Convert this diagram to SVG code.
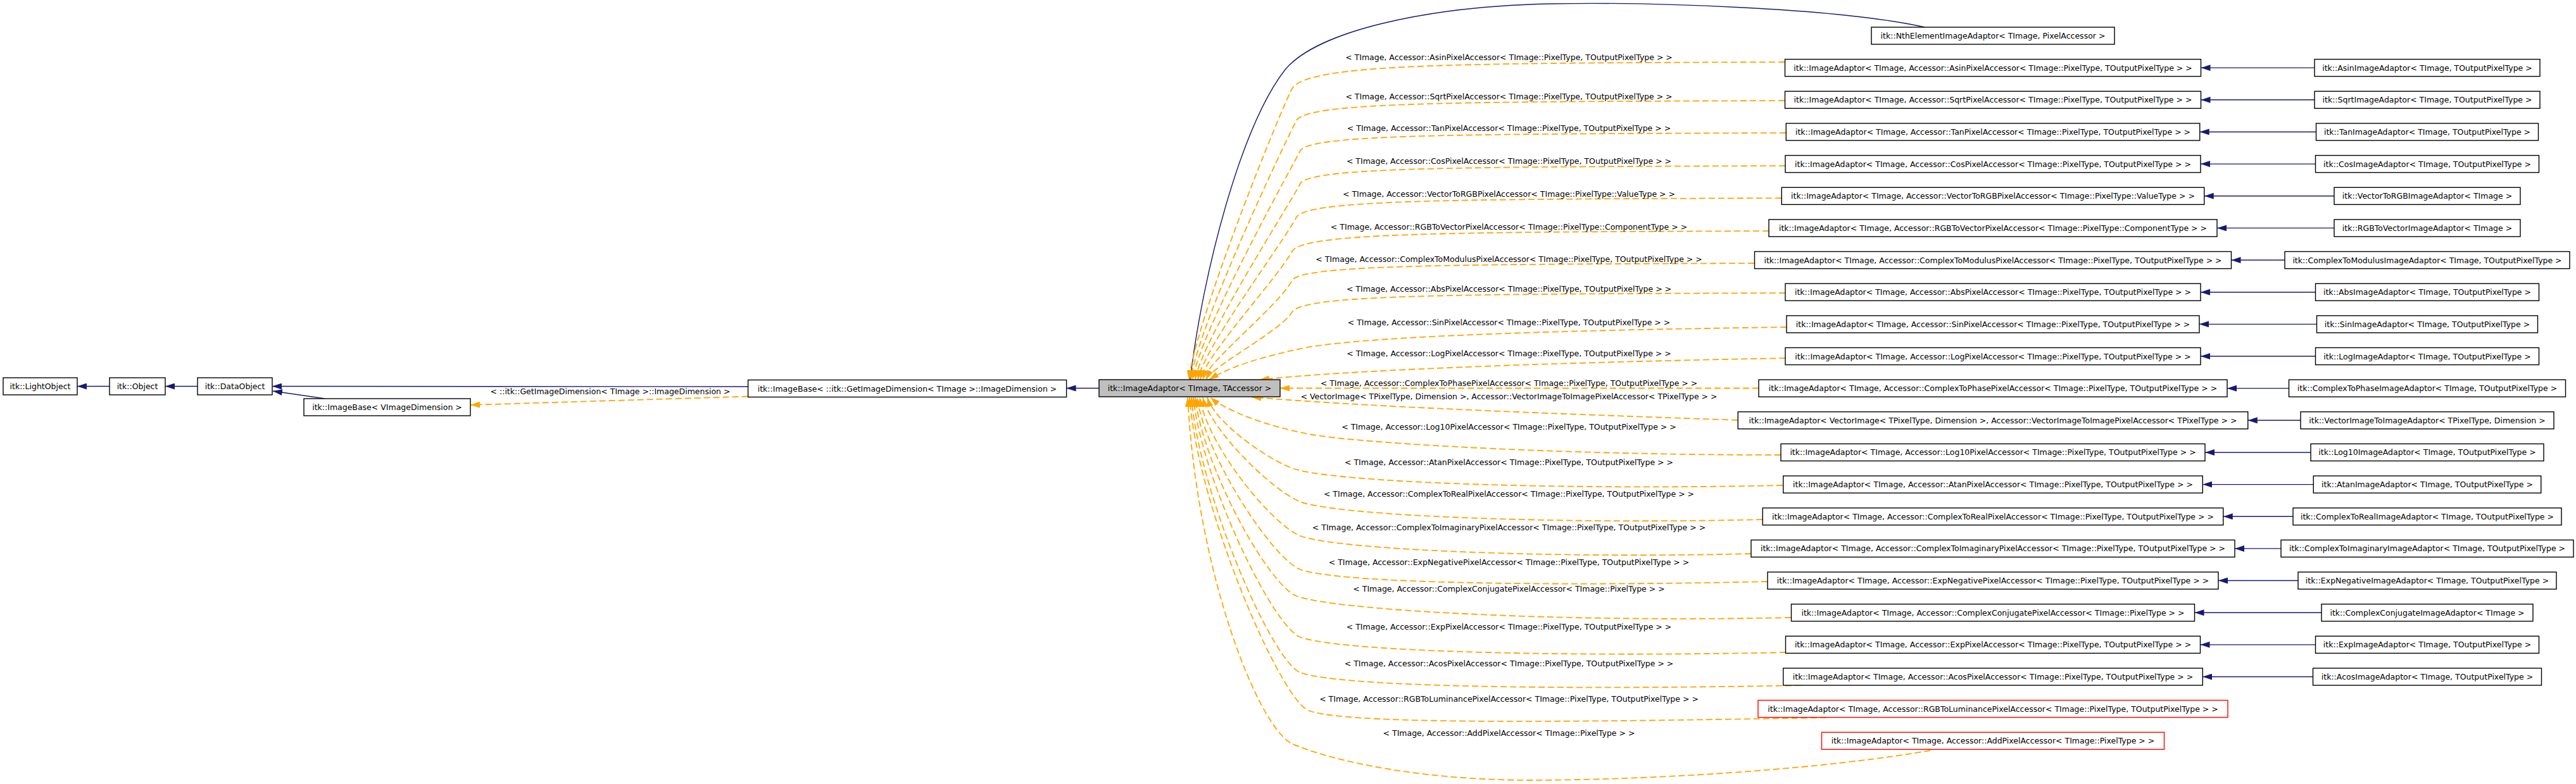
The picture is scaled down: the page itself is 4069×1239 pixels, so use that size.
<svg xmlns="http://www.w3.org/2000/svg" width="4069" height="1239" viewBox="0 0 4069 1239">
<style>
text{font-family:"DejaVu Sans","Liberation Sans",sans-serif;font-size:12.5px;fill:#000}
.n rect{fill:#fff;stroke:#000;stroke-width:1.4}
.n text{text-anchor:middle}
.r rect{stroke:#ff0000}
.g rect{fill:#bfbfbf}
.e{fill:none;stroke:#191970;stroke-width:1.4;marker-end:url(#an)}
.t{fill:none;stroke:#ffa500;stroke-width:1.8;stroke-dasharray:10 5;marker-end:url(#ao)}
.l{text-anchor:middle}
</style>
<defs>
<marker id="an" markerUnits="userSpaceOnUse" viewBox="0 0 15 10" markerWidth="15" markerHeight="10" refX="15" refY="5" orient="auto"><path d="M0,0 L15,5 L0,10 z" fill="#191970"/></marker>
<marker id="ao" markerUnits="userSpaceOnUse" viewBox="0 0 15 10" markerWidth="15" markerHeight="10" refX="15" refY="5" orient="auto"><path d="M0,0 L15,5 L0,10 z" fill="#ffa500"/></marker>
</defs>
<rect width="4069" height="1239" fill="#fff"/>
<g id="edges">
<path class="e" d="M173,610.5 L122,610.5"/>
<path class="e" d="M312,610.5 L261,610.5"/>
<path class="e" d="M1181.6,611 L430,610.5"/>
<path class="e" d="M513,630 L431,618"/>
<path class="e" d="M1736,613.5 L1684.6,613.5"/>
<path class="t" d="M1181.6,626.5 L743,640"/>
<text class="l" x="964" y="622.5">&lt; ::itk::GetImageDimension&lt; TImage &gt;::ImageDimension &gt;</text>
<path class="e" d="M3040,43 C2900,12 2600,3 2450,6 C2250,10 2080,50 2030,110 C1960,200 1900,430 1880,600"/>
<path class="t" d="M2819,98 C2300,100 2066,100 2041,140 C2020,180 1888,508 1878,600"/>
<path class="t" d="M2819,159 C2300,161 2067,161 2048,190 C2027,230 1891,518 1881,600"/>
<path class="t" d="M2821,210 C2300,212 2071,212 2054,238 C2033,278 1894,528 1884,600"/>
<path class="t" d="M2820,262 C2300,264 2071,264 2054,290 C2033,330 1898,538 1888,600"/>
<path class="t" d="M2814,313 C2300,315 2066,315 2048,343 C2027,383 1902,549 1892,600"/>
<path class="t" d="M2794,365 C2300,367 2060,367 2041,397 C2020,437 1906,559 1896,600"/>
<path class="t" d="M2771,416 C2300,418 2057,418 2041,443 C2020,483 1910,569 1900,600"/>
<path class="t" d="M2820,463 C2300,465 2059,465 2041,493 C2025,522 1915,578 1905,600"/>
<path class="t" d="M2822,517 C2450,522 2150,532 2060,550 C2000,562 1945,578 1910,600"/>
<path class="t" d="M2820,566 C2500,572 2150,583 1990,600"/>
<path class="t" d="M2778,613.5 L2022,613.5"/>
<path class="t" d="M2745,664 C2400,652 2150,642 1977,627.5"/>
<path class="t" d="M2813,719 C2450,719 2150,700 2073,687 C2000,674 1935,648 1912,628"/>
<path class="t" d="M2816,767 C2450,775 2101,762 2041,740 C1996,722 1919,667 1907,628"/>
<path class="t" d="M2784,821 C2450,829 2114,815 2054,793 C2009,775 1912,679 1900,628"/>
<path class="t" d="M2766,875 C2450,883 2114,869 2054,847 C2009,829 1907,704 1895,628"/>
<path class="t" d="M2792,919 C2450,927 2114,922 2054,900 C2009,882 1903,719 1891,628"/>
<path class="t" d="M2829,976 C2450,984 2108,964 2048,942 C2003,924 1900,737 1888,628"/>
<path class="t" d="M2821,1031 C2450,1039 2114,1029 2054,1007 C2009,989 1897,754 1885,628"/>
<path class="t" d="M2845,1083 C2450,1091 2114,1085 2054,1063 C2009,1045 1894,780 1882,628"/>
<path class="t" d="M2885,1134 C2450,1142 2127,1145 2067,1123 C2022,1105 1891,800 1879,628"/>
<path class="t" d="M3049,1186 C2900,1212 2650,1232 2420,1233 C2250,1233 2110,1205 2040,1175 C1985,1145 1890,900 1876,628"/>
<text class="l" x="2383.5" y="94.5">&lt; TImage, Accessor::AsinPixelAccessor&lt; TImage::PixelType, TOutputPixelType &gt; &gt;</text>
<text class="l" x="2383.5" y="157.2">&lt; TImage, Accessor::SqrtPixelAccessor&lt; TImage::PixelType, TOutputPixelType &gt; &gt;</text>
<text class="l" x="2383.5" y="206.8">&lt; TImage, Accessor::TanPixelAccessor&lt; TImage::PixelType, TOutputPixelType &gt; &gt;</text>
<text class="l" x="2383.5" y="258.8">&lt; TImage, Accessor::CosPixelAccessor&lt; TImage::PixelType, TOutputPixelType &gt; &gt;</text>
<text class="l" x="2383.5" y="310.5">&lt; TImage, Accessor::VectorToRGBPixelAccessor&lt; TImage::PixelType::ValueType &gt; &gt;</text>
<text class="l" x="2383.5" y="363.2">&lt; TImage, Accessor::RGBToVectorPixelAccessor&lt; TImage::PixelType::ComponentType &gt; &gt;</text>
<text class="l" x="2383.5" y="413.8">&lt; TImage, Accessor::ComplexToModulusPixelAccessor&lt; TImage::PixelType, TOutputPixelType &gt; &gt;</text>
<text class="l" x="2383.5" y="461.2">&lt; TImage, Accessor::AbsPixelAccessor&lt; TImage::PixelType, TOutputPixelType &gt; &gt;</text>
<text class="l" x="2383.5" y="513.8">&lt; TImage, Accessor::SinPixelAccessor&lt; TImage::PixelType, TOutputPixelType &gt; &gt;</text>
<text class="l" x="2383.5" y="563.2">&lt; TImage, Accessor::LogPixelAccessor&lt; TImage::PixelType, TOutputPixelType &gt; &gt;</text>
<text class="l" x="2383.5" y="609.8">&lt; TImage, Accessor::ComplexToPhasePixelAccessor&lt; TImage::PixelType, TOutputPixelType &gt; &gt;</text>
<text class="l" x="2383.5" y="630.8">&lt; VectorImage&lt; TPixelType, Dimension &gt;, Accessor::VectorImageToImagePixelAccessor&lt; TPixelType &gt; &gt;</text>
<text class="l" x="2383.5" y="678.8">&lt; TImage, Accessor::Log10PixelAccessor&lt; TImage::PixelType, TOutputPixelType &gt; &gt;</text>
<text class="l" x="2383.5" y="734.8">&lt; TImage, Accessor::AtanPixelAccessor&lt; TImage::PixelType, TOutputPixelType &gt; &gt;</text>
<text class="l" x="2383.5" y="784.8">&lt; TImage, Accessor::ComplexToRealPixelAccessor&lt; TImage::PixelType, TOutputPixelType &gt; &gt;</text>
<text class="l" x="2383.5" y="837.8">&lt; TImage, Accessor::ComplexToImaginaryPixelAccessor&lt; TImage::PixelType, TOutputPixelType &gt; &gt;</text>
<text class="l" x="2383.5" y="892.8">&lt; TImage, Accessor::ExpNegativePixelAccessor&lt; TImage::PixelType, TOutputPixelType &gt; &gt;</text>
<text class="l" x="2383.5" y="934.8">&lt; TImage, Accessor::ComplexConjugatePixelAccessor&lt; TImage::PixelType &gt; &gt;</text>
<text class="l" x="2383.5" y="995.2">&lt; TImage, Accessor::ExpPixelAccessor&lt; TImage::PixelType, TOutputPixelType &gt; &gt;</text>
<text class="l" x="2383.5" y="1052.8">&lt; TImage, Accessor::AcosPixelAccessor&lt; TImage::PixelType, TOutputPixelType &gt; &gt;</text>
<text class="l" x="2383.5" y="1108.8">&lt; TImage, Accessor::RGBToLuminancePixelAccessor&lt; TImage::PixelType, TOutputPixelType &gt; &gt;</text>
<text class="l" x="2383.5" y="1162.8">&lt; TImage, Accessor::AddPixelAccessor&lt; TImage::PixelType &gt; &gt;</text>
<path class="e" d="M3656,107.15 L3476.5,107.15"/>
<path class="e" d="M3656,157.8 L3476.5,157.8"/>
<path class="e" d="M3658.5,208.45 L3474.75,208.45"/>
<path class="e" d="M3657.5,259.1 L3476,259.1"/>
<path class="e" d="M3687,309.75 L3481.75,309.75"/>
<path class="e" d="M3687,360.4 L3502,360.4"/>
<path class="e" d="M3609,411.05 L3524.5,411.05"/>
<path class="e" d="M3657.5,461.7 L3476,461.7"/>
<path class="e" d="M3659.5,512.35 L3474,512.35"/>
<path class="e" d="M3657.5,563 L3476,563"/>
<path class="e" d="M3615.5,613.65 L3518,613.65"/>
<path class="e" d="M3634,664.3 L3550.75,664.3"/>
<path class="e" d="M3650,714.95 L3483,714.95"/>
<path class="e" d="M3654.25,765.6 L3479.25,765.6"/>
<path class="e" d="M3622,816.25 L3511.75,816.25"/>
<path class="e" d="M3603,866.9 L3530,866.9"/>
<path class="e" d="M3630,917.55 L3504,917.55"/>
<path class="e" d="M3667,968.2 L3466.5,968.2"/>
<path class="e" d="M3657.5,1018.85 L3475.5,1018.85"/>
<path class="e" d="M3653.5,1069.5 L3479.25,1069.5"/>
</g>
<g id="n_lightobject" class="n"><rect x="5" y="597" width="117" height="27"/><text x="63.5" y="615">itk::LightObject</text></g>
<g id="n_object" class="n"><rect x="173" y="597" width="88" height="27"/><text x="217" y="615">itk::Object</text></g>
<g id="n_dataobject" class="n"><rect x="312" y="597" width="118" height="27"/><text x="371" y="615">itk::DataObject</text></g>
<g id="n_imagebase_v" class="n"><rect x="480" y="630" width="263" height="27"/><text x="611.5" y="648">itk::ImageBase&lt; VImageDimension &gt;</text></g>
<g id="n_imagebase_get" class="n"><rect x="1181.6" y="600.5" width="503" height="27"/><text x="1433" y="618.5">itk::ImageBase&lt; ::itk::GetImageDimension&lt; TImage &gt;::ImageDimension &gt;</text></g>
<g id="n_imageadaptor" class="n g"><rect x="1736" y="600" width="286" height="27"/><text x="1879" y="618">itk::ImageAdaptor&lt; TImage, TAccessor &gt;</text></g>
<g id="n_nth" class="n"><rect x="2956" y="43" width="384" height="27"/><text x="3148" y="61">itk::NthElementImageAdaptor&lt; TImage, PixelAccessor &gt;</text></g>
<g id="n_ia_asin" class="n"><rect x="2819.5" y="93.65" width="657" height="27"/><text x="3148" y="111.65">itk::ImageAdaptor&lt; TImage, Accessor::AsinPixelAccessor&lt; TImage::PixelType, TOutputPixelType &gt; &gt;</text></g>
<g id="n_asin" class="n"><rect x="3656" y="93.65" width="356" height="27"/><text x="3834" y="111.65">itk::AsinImageAdaptor&lt; TImage, TOutputPixelType &gt;</text></g>
<g id="n_ia_sqrt" class="n"><rect x="2819.5" y="144.3" width="657" height="27"/><text x="3148" y="162.3">itk::ImageAdaptor&lt; TImage, Accessor::SqrtPixelAccessor&lt; TImage::PixelType, TOutputPixelType &gt; &gt;</text></g>
<g id="n_sqrt" class="n"><rect x="3656" y="144.3" width="356" height="27"/><text x="3834" y="162.3">itk::SqrtImageAdaptor&lt; TImage, TOutputPixelType &gt;</text></g>
<g id="n_ia_tan" class="n"><rect x="2821.25" y="194.95" width="653.5" height="27"/><text x="3148" y="212.95">itk::ImageAdaptor&lt; TImage, Accessor::TanPixelAccessor&lt; TImage::PixelType, TOutputPixelType &gt; &gt;</text></g>
<g id="n_tan" class="n"><rect x="3658.5" y="194.95" width="351" height="27"/><text x="3834" y="212.95">itk::TanImageAdaptor&lt; TImage, TOutputPixelType &gt;</text></g>
<g id="n_ia_cos" class="n"><rect x="2820" y="245.6" width="656" height="27"/><text x="3148" y="263.6">itk::ImageAdaptor&lt; TImage, Accessor::CosPixelAccessor&lt; TImage::PixelType, TOutputPixelType &gt; &gt;</text></g>
<g id="n_cos" class="n"><rect x="3657.5" y="245.6" width="353" height="27"/><text x="3834" y="263.6">itk::CosImageAdaptor&lt; TImage, TOutputPixelType &gt;</text></g>
<g id="n_ia_vectorgb" class="n"><rect x="2814.25" y="296.25" width="667.5" height="27"/><text x="3148" y="314.25">itk::ImageAdaptor&lt; TImage, Accessor::VectorToRGBPixelAccessor&lt; TImage::PixelType::ValueType &gt; &gt;</text></g>
<g id="n_vectorgb" class="n"><rect x="3687" y="296.25" width="294" height="27"/><text x="3834" y="314.25">itk::VectorToRGBImageAdaptor&lt; TImage &gt;</text></g>
<g id="n_ia_rgbtovec" class="n"><rect x="2794" y="346.9" width="708" height="27"/><text x="3148" y="364.9">itk::ImageAdaptor&lt; TImage, Accessor::RGBToVectorPixelAccessor&lt; TImage::PixelType::ComponentType &gt; &gt;</text></g>
<g id="n_rgbtovec" class="n"><rect x="3687" y="346.9" width="294" height="27"/><text x="3834" y="364.9">itk::RGBToVectorImageAdaptor&lt; TImage &gt;</text></g>
<g id="n_ia_ctomod" class="n"><rect x="2771.5" y="397.55" width="753" height="27"/><text x="3148" y="415.55">itk::ImageAdaptor&lt; TImage, Accessor::ComplexToModulusPixelAccessor&lt; TImage::PixelType, TOutputPixelType &gt; &gt;</text></g>
<g id="n_ctomod" class="n"><rect x="3609" y="397.55" width="450" height="27"/><text x="3834" y="415.55">itk::ComplexToModulusImageAdaptor&lt; TImage, TOutputPixelType &gt;</text></g>
<g id="n_ia_abs" class="n"><rect x="2820" y="448.2" width="656" height="27"/><text x="3148" y="466.2">itk::ImageAdaptor&lt; TImage, Accessor::AbsPixelAccessor&lt; TImage::PixelType, TOutputPixelType &gt; &gt;</text></g>
<g id="n_abs" class="n"><rect x="3657.5" y="448.2" width="353" height="27"/><text x="3834" y="466.2">itk::AbsImageAdaptor&lt; TImage, TOutputPixelType &gt;</text></g>
<g id="n_ia_sin" class="n"><rect x="2822" y="498.85" width="652" height="27"/><text x="3148" y="516.85">itk::ImageAdaptor&lt; TImage, Accessor::SinPixelAccessor&lt; TImage::PixelType, TOutputPixelType &gt; &gt;</text></g>
<g id="n_sin" class="n"><rect x="3659.5" y="498.85" width="349" height="27"/><text x="3834" y="516.85">itk::SinImageAdaptor&lt; TImage, TOutputPixelType &gt;</text></g>
<g id="n_ia_log" class="n"><rect x="2820" y="549.5" width="656" height="27"/><text x="3148" y="567.5">itk::ImageAdaptor&lt; TImage, Accessor::LogPixelAccessor&lt; TImage::PixelType, TOutputPixelType &gt; &gt;</text></g>
<g id="n_log" class="n"><rect x="3657.5" y="549.5" width="353" height="27"/><text x="3834" y="567.5">itk::LogImageAdaptor&lt; TImage, TOutputPixelType &gt;</text></g>
<g id="n_ia_ctophase" class="n"><rect x="2778" y="600.15" width="740" height="27"/><text x="3148" y="618.15">itk::ImageAdaptor&lt; TImage, Accessor::ComplexToPhasePixelAccessor&lt; TImage::PixelType, TOutputPixelType &gt; &gt;</text></g>
<g id="n_ctophase" class="n"><rect x="3615.5" y="600.15" width="437" height="27"/><text x="3834" y="618.15">itk::ComplexToPhaseImageAdaptor&lt; TImage, TOutputPixelType &gt;</text></g>
<g id="n_ia_vecimg" class="n"><rect x="2745.25" y="650.8" width="805.5" height="27"/><text x="3148" y="668.8">itk::ImageAdaptor&lt; VectorImage&lt; TPixelType, Dimension &gt;, Accessor::VectorImageToImagePixelAccessor&lt; TPixelType &gt; &gt;</text></g>
<g id="n_vecimg" class="n"><rect x="3634" y="650.8" width="400" height="27"/><text x="3834" y="668.8">itk::VectorImageToImageAdaptor&lt; TPixelType, Dimension &gt;</text></g>
<g id="n_ia_log10" class="n"><rect x="2813" y="701.45" width="670" height="27"/><text x="3148" y="719.45">itk::ImageAdaptor&lt; TImage, Accessor::Log10PixelAccessor&lt; TImage::PixelType, TOutputPixelType &gt; &gt;</text></g>
<g id="n_log10" class="n"><rect x="3650" y="701.45" width="368" height="27"/><text x="3834" y="719.45">itk::Log10ImageAdaptor&lt; TImage, TOutputPixelType &gt;</text></g>
<g id="n_ia_atan" class="n"><rect x="2816.75" y="752.1" width="662.5" height="27"/><text x="3148" y="770.1">itk::ImageAdaptor&lt; TImage, Accessor::AtanPixelAccessor&lt; TImage::PixelType, TOutputPixelType &gt; &gt;</text></g>
<g id="n_atan" class="n"><rect x="3654.25" y="752.1" width="359.5" height="27"/><text x="3834" y="770.1">itk::AtanImageAdaptor&lt; TImage, TOutputPixelType &gt;</text></g>
<g id="n_ia_ctoreal" class="n"><rect x="2784.25" y="802.75" width="727.5" height="27"/><text x="3148" y="820.75">itk::ImageAdaptor&lt; TImage, Accessor::ComplexToRealPixelAccessor&lt; TImage::PixelType, TOutputPixelType &gt; &gt;</text></g>
<g id="n_ctoreal" class="n"><rect x="3622" y="802.75" width="424" height="27"/><text x="3834" y="820.75">itk::ComplexToRealImageAdaptor&lt; TImage, TOutputPixelType &gt;</text></g>
<g id="n_ia_ctoimag" class="n"><rect x="2766" y="853.4" width="764" height="27"/><text x="3148" y="871.4">itk::ImageAdaptor&lt; TImage, Accessor::ComplexToImaginaryPixelAccessor&lt; TImage::PixelType, TOutputPixelType &gt; &gt;</text></g>
<g id="n_ctoimag" class="n"><rect x="3603" y="853.4" width="462" height="27"/><text x="3834" y="871.4">itk::ComplexToImaginaryImageAdaptor&lt; TImage, TOutputPixelType &gt;</text></g>
<g id="n_ia_expneg" class="n"><rect x="2792" y="904.05" width="712" height="27"/><text x="3148" y="922.05">itk::ImageAdaptor&lt; TImage, Accessor::ExpNegativePixelAccessor&lt; TImage::PixelType, TOutputPixelType &gt; &gt;</text></g>
<g id="n_expneg" class="n"><rect x="3630" y="904.05" width="408" height="27"/><text x="3834" y="922.05">itk::ExpNegativeImageAdaptor&lt; TImage, TOutputPixelType &gt;</text></g>
<g id="n_ia_cconj" class="n"><rect x="2829.5" y="954.7" width="637" height="27"/><text x="3148" y="972.7">itk::ImageAdaptor&lt; TImage, Accessor::ComplexConjugatePixelAccessor&lt; TImage::PixelType &gt; &gt;</text></g>
<g id="n_cconj" class="n"><rect x="3667" y="954.7" width="334" height="27"/><text x="3834" y="972.7">itk::ComplexConjugateImageAdaptor&lt; TImage &gt;</text></g>
<g id="n_ia_exp" class="n"><rect x="2820.5" y="1005.35" width="655" height="27"/><text x="3148" y="1023.35">itk::ImageAdaptor&lt; TImage, Accessor::ExpPixelAccessor&lt; TImage::PixelType, TOutputPixelType &gt; &gt;</text></g>
<g id="n_exp" class="n"><rect x="3657.5" y="1005.35" width="353" height="27"/><text x="3834" y="1023.35">itk::ExpImageAdaptor&lt; TImage, TOutputPixelType &gt;</text></g>
<g id="n_ia_acos" class="n"><rect x="2816.75" y="1056" width="662.5" height="27"/><text x="3148" y="1074">itk::ImageAdaptor&lt; TImage, Accessor::AcosPixelAccessor&lt; TImage::PixelType, TOutputPixelType &gt; &gt;</text></g>
<g id="n_acos" class="n"><rect x="3653.5" y="1056" width="361" height="27"/><text x="3834" y="1074">itk::AcosImageAdaptor&lt; TImage, TOutputPixelType &gt;</text></g>
<g id="n_ia_rgbtolum" class="n r"><rect x="2777" y="1106.65" width="742" height="27"/><text x="3148" y="1124.65">itk::ImageAdaptor&lt; TImage, Accessor::RGBToLuminancePixelAccessor&lt; TImage::PixelType, TOutputPixelType &gt; &gt;</text></g>
<g id="n_ia_add" class="n r"><rect x="2877.5" y="1157.3" width="541" height="27"/><text x="3148" y="1175.3">itk::ImageAdaptor&lt; TImage, Accessor::AddPixelAccessor&lt; TImage::PixelType &gt; &gt;</text></g>
</svg>
